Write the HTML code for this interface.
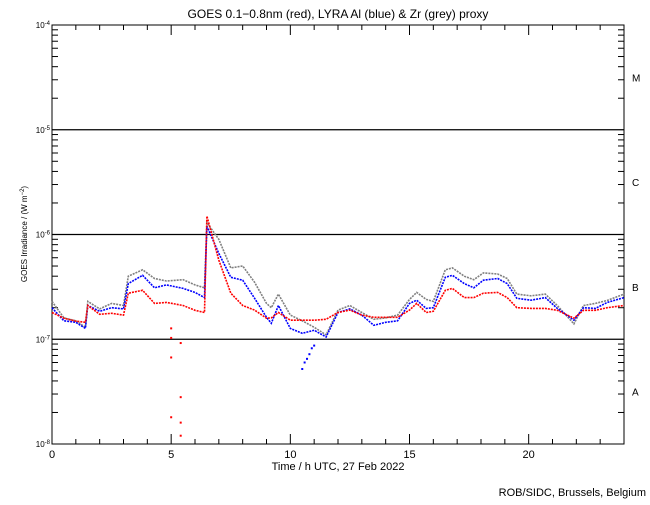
<!DOCTYPE html>
<html><head><meta charset="utf-8"><style>
body{margin:0;background:#fff;width:650px;height:500px;overflow:hidden}
text{font-family:"Liberation Sans",sans-serif;fill:#000}
</style></head><body>
<svg id="c" width="650" height="500" xmlns="http://www.w3.org/2000/svg">
<text x="338" y="18" font-size="12" text-anchor="middle">GOES 0.1−0.8nm (red), LYRA Al (blue) &amp; Zr (grey) proxy</text>
<text x="338" y="470" font-size="11" text-anchor="middle">Time / h UTC, 27 Feb 2022</text>
<text x="646" y="496" font-size="11" text-anchor="end">ROB/SIDC, Brussels, Belgium</text>
<text transform="translate(27,234) rotate(-90)" font-size="8" text-anchor="middle">GOES Irradiance / (W m<tspan dy="-3" font-size="6">−2</tspan><tspan dy="3">)</tspan></text>
<g id="g"></g>
</svg>
<script>
const times=[0,0.5,1,1.4,1.5,2,2.5,3,3.2,3.8,4.3,4.8,5.5,6,6.4,6.5,7,7.5,8,8.5,9,9.2,9.5,10,10.5,11,11.5,12,12.5,13,13.5,14,14.5,15,15.3,15.7,16,16.5,16.8,17.3,17.7,18.1,18.7,19.1,19.5,20.1,20.7,21.2,21.9,22.3,22.8,23.3,24];
const redVals=[1.8e-7,1.59e-7,1.49e-7,1.45e-7,2.1e-7,1.73e-7,1.77e-7,1.7e-7,2.75e-7,2.93e-7,2.2e-7,2.25e-7,2.1e-7,1.89e-7,1.8e-7,1.5e-6,5.7e-7,2.75e-7,2.1e-7,1.9e-7,1.59e-7,1.6e-7,1.8e-7,1.52e-7,1.52e-7,1.52e-7,1.55e-7,1.8e-7,1.9e-7,1.7e-7,1.62e-7,1.62e-7,1.62e-7,1.9e-7,2.2e-7,1.8e-7,1.85e-7,2.93e-7,3.06e-7,2.5e-7,2.5e-7,2.75e-7,2.8e-7,2.5e-7,2.0e-7,1.97e-7,1.97e-7,1.89e-7,1.59e-7,1.89e-7,1.89e-7,2.0e-7,2.1e-7];
const blueVals=[2.0e-7,1.5e-7,1.45e-7,1.27e-7,2.1e-7,1.85e-7,2.0e-7,1.95e-7,3.4e-7,4.08e-7,3.1e-7,3.3e-7,3.06e-7,2.8e-7,2.5e-7,1.2e-6,6.6e-7,3.9e-7,3.66e-7,2.46e-7,1.62e-7,1.42e-7,2.1e-7,1.27e-7,1.14e-7,1.22e-7,1.05e-7,1.8e-7,1.95e-7,1.7e-7,1.36e-7,1.45e-7,1.5e-7,2.2e-7,2.36e-7,1.97e-7,2.0e-7,3.9e-7,4.08e-7,3.4e-7,3.1e-7,3.66e-7,3.8e-7,3.4e-7,2.46e-7,2.36e-7,2.5e-7,1.97e-7,1.52e-7,2.0e-7,1.97e-7,2.25e-7,2.5e-7];
const greyVals=[2.3e-7,1.6e-7,1.5e-7,1.3e-7,2.3e-7,1.95e-7,2.2e-7,2.1e-7,4.0e-7,4.6e-7,3.8e-7,3.6e-7,3.7e-7,3.3e-7,3.1e-7,1.3e-6,9e-7,4.8e-7,5.0e-7,3.5e-7,2.2e-7,2.0e-7,2.7e-7,1.7e-7,1.5e-7,1.3e-7,1.1e-7,1.9e-7,2.1e-7,1.8e-7,1.55e-7,1.6e-7,1.7e-7,2.4e-7,2.8e-7,2.4e-7,2.3e-7,4.6e-7,4.8e-7,4.0e-7,3.7e-7,4.3e-7,4.2e-7,3.8e-7,2.7e-7,2.6e-7,2.7e-7,2.1e-7,1.4e-7,2.1e-7,2.2e-7,2.35e-7,2.7e-7];
const redDropT=[5.0,5.0,5.0,5.0,5.4,5.4,5.4,5.4];
const redDropV=[1.27e-7,1.03e-7,6.7e-8,1.8e-8,9.2e-8,2.8e-8,1.6e-8,1.2e-8];
const blueDropT=[10.5,10.6,10.7,10.8,10.9,11.0];
const blueDropV=[5.2e-8,6.0e-8,6.5e-8,7.2e-8,8.2e-8,8.7e-8];
const xTicks=[0,5,10,15,20];
const yDecades=[-8,-7,-6,-5,-4];
const classes=["A","B","C","M"];
const L=52,R=624,T=25,B=444;
const X=t=>L+(R-L)*t/24;
const Y=v=>B-(B-T)*(Math.log10(v)+8)/4;
const NS="http://www.w3.org/2000/svg",g=document.getElementById('g');
function mk(tag,a){const e=document.createElementNS(NS,tag);for(const k in a)e.setAttribute(k,a[k]);g.appendChild(e);return e;}
let e=mk('rect',{x:L,y:T,width:R-L,height:B-T,fill:'none',stroke:'#000','stroke-width':1});


for(const d of yDecades){
  const y=Y(Math.pow(10,d));
  if(d>-8&&d<-4){e=mk('line',{x1:L,x2:R,y1:y,y2:y,stroke:'#000','stroke-width':1.2});
  
  }
  e=mk('text',{x:L-2,y:y+3,'font-size':8,'text-anchor':'end'});
  e.innerHTML='10<tspan dy="-3" font-size="6">'+d+'</tspan>';
  
  
  if(d<-4)for(let m=2;m<=9;m++){const yy=Y(m*Math.pow(10,d));
    mk('line',{x1:L,x2:L+6,y1:yy,y2:yy,stroke:'#000'});mk('line',{x1:R,x2:R-6,y1:yy,y2:yy,stroke:'#000'});}
}
for(let i=0;i<4;i++){const y=Y(Math.pow(10,-7.5+i));
  e=mk('text',{x:632,y:y+4,'font-size':10});e.textContent=classes[i];
  
  }
for(let h=0;h<=24;h++){const x=X(h),len=h%5==0?10:5;
  mk('line',{x1:x,x2:x,y1:B,y2:B-len,stroke:'#000'});mk('line',{x1:x,x2:x,y1:T,y2:T+len,stroke:'#000'});}
for(const t of xTicks){e=mk('text',{x:X(t),y:B+14,'font-size':11,'text-anchor':'middle'});e.textContent=t;
  
  }
function series(vals,col,name){
  let d='';times.forEach((t,i)=>{d+=(i==0?'M':'L')+X(t).toFixed(1)+','+Y(vals[i]).toFixed(1);});
  e=mk('path',{d:d,fill:'none',stroke:col,'stroke-width':1.6,'stroke-dasharray':'2 1'});
  
  
}
series(greyVals,'#808080','zr-proxy-series');
series(blueVals,'#0000ff','al-proxy-series');
series(redVals,'#ff0000','goes-series');
function dots(ts,vs,col,name){ts.forEach((t,i)=>{e=mk('rect',{x:X(t)-1,y:Y(vs[i])-1,width:2,height:2,fill:col});
  
  });}
dots(redDropT,redDropV,'#ff0000','goes-dropout-point');
dots(blueDropT,blueDropV,'#0000ff','al-dropout-point');
</script>
</body></html>
